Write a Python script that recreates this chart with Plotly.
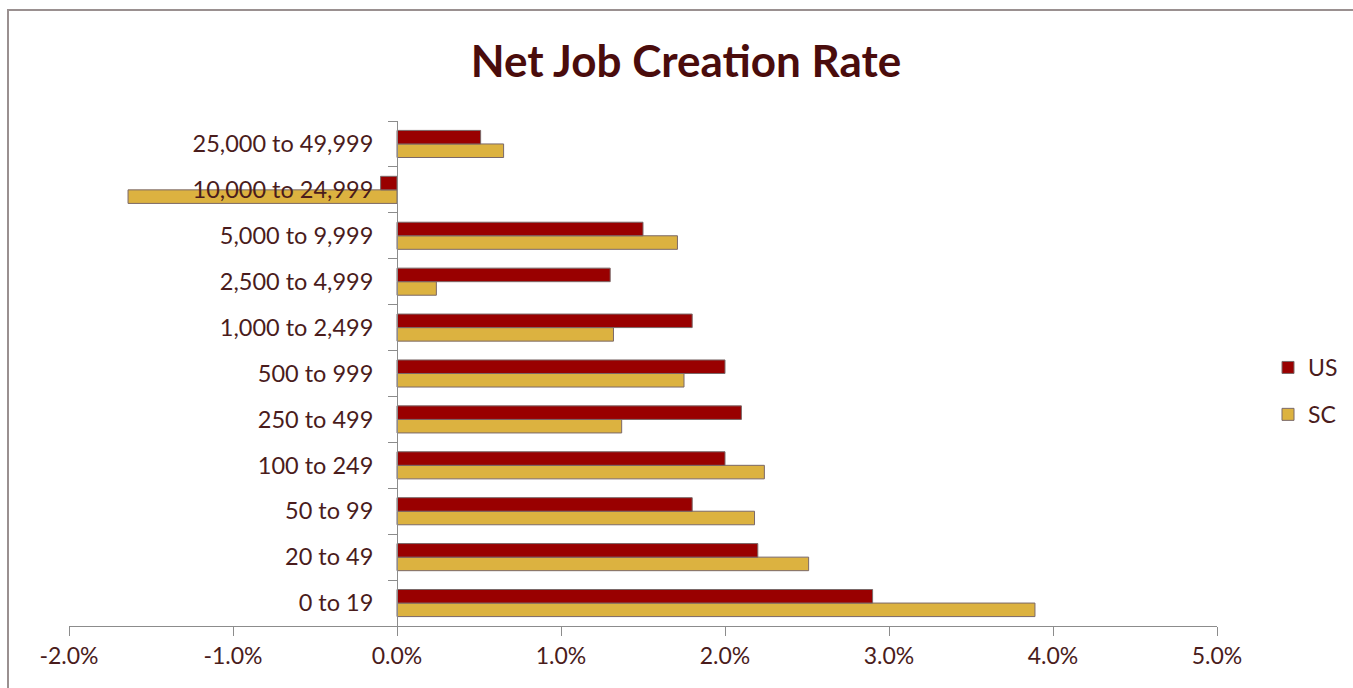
import plotly.graph_objects as go

categories = ["0 to 19", "20 to 49", "50 to 99", "100 to 249", "250 to 499",
              "500 to 999", "1,000 to 2,499", "2,500 to 4,999", "5,000 to 9,999",
              "10,000 to 24,999", "25,000 to 49,999"]
us_values = [0.0290, 0.0220, 0.0180, 0.0200, 0.0210, 0.0200, 0.0180, 0.0130, 0.0150, -0.0010, 0.0051]
sc_values = [0.0389, 0.0251, 0.0218, 0.0224, 0.0137, 0.0175, 0.0132, 0.0024, 0.0171, -0.0164, 0.0065]
x_ticks = [-0.02, -0.01, 0.0, 0.01, 0.02, 0.03, 0.04, 0.05]
x_tick_labels = ["-2.0%", "-1.0%", "0.0%", "1.0%", "2.0%", "3.0%", "4.0%", "5.0%"]

TEXT = "#4a1c1c"
FONT = "Lato"

fig = go.Figure()
fig.add_trace(go.Bar(
    y=categories, x=sc_values, name="SC", orientation="h",
    marker=dict(color="#dcb240", line=dict(color="#7a6868", width=1)),
    legendgroup="sc", legendrank=2,
))
fig.add_trace(go.Bar(
    y=categories, x=us_values, name="US", orientation="h",
    marker=dict(color="#990000", line=dict(color="#7a6868", width=1)),
    legendgroup="us", legendrank=1,
))

W, H = 1353, 688
L, R, T, B = 69, 136, 121, 62
pw, ph = W - L - R, H - T - B

def px(x):
    return (x - L) / pw

def py(y):
    return (H - B - y) / ph

fig.update_layout(
    width=W, height=H,
    margin=dict(l=L, r=R, t=T, b=B, autoexpand=False),
    paper_bgcolor="white", plot_bgcolor="white",
    barmode="group", bargap=0.41, bargroupgap=0,
    font=dict(family=FONT, color=TEXT, size=23),
    title=dict(text="<b>Net Job Creation Rate</b>", x=0.507, xanchor="center",
               y=1 - 62 / H, yanchor="middle",
               font=dict(family=FONT, size=44, color="#4a0c0c")),
    xaxis=dict(range=[-0.02, 0.05], tickvals=x_ticks, ticktext=x_tick_labels,
               showgrid=False, zeroline=False, showline=True, linecolor="#8c8c8c",
               linewidth=1, ticks="outside", ticklen=9, tickcolor="#8c8c8c",
               tickfont=dict(size=23, color=TEXT), fixedrange=True),
    yaxis=dict(type="category", categoryorder="array", categoryarray=categories,
               anchor="free", position=2 / 7, showgrid=False, showline=True,
               linecolor="#8c8c8c", linewidth=1, ticks="outside", ticklen=9,
               tickcolor="#8c8c8c", tickson="boundaries", ticklabelstandoff=19,
               tickfont=dict(size=23.5, color=TEXT), fixedrange=True),
    legend=dict(x=px(1268), y=py(391), xanchor="left", yanchor="middle",
                traceorder="grouped", tracegroupgap=14,
                font=dict(size=23, color=TEXT), bgcolor="rgba(0,0,0,0)"),
    shapes=[dict(type="rect", xref="paper", yref="paper",
                 x0=px(8), x1=px(1400), y0=py(740), y1=py(10),
                 line=dict(color="#9a9090", width=2), fillcolor="rgba(0,0,0,0)",
                 layer="below")],
)

fig.write_html("out.html")
